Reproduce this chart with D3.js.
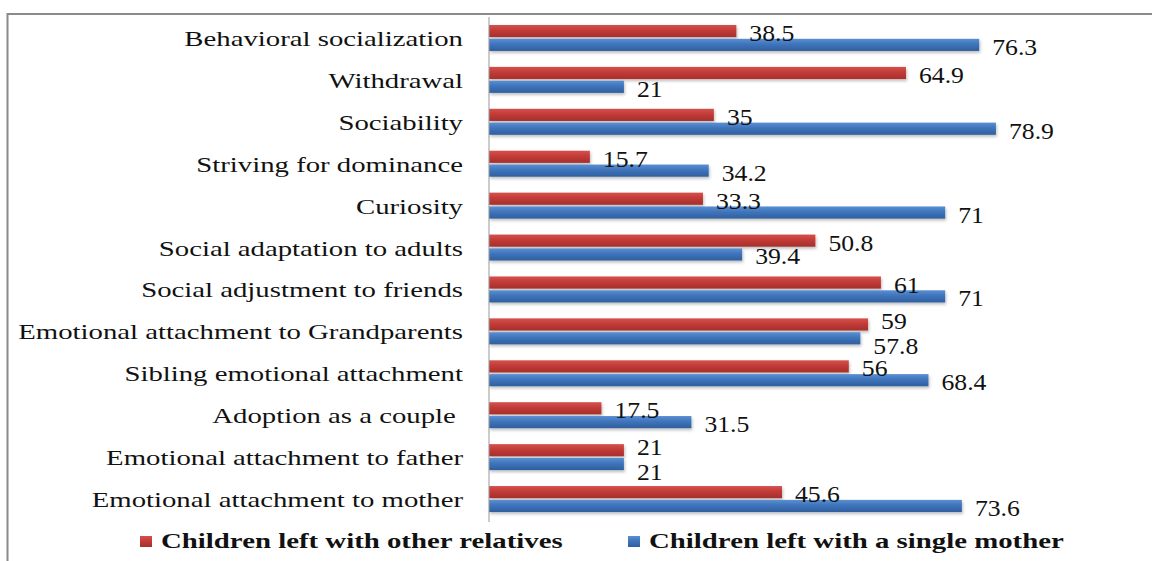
<!DOCTYPE html>
<html>
<head>
<meta charset="utf-8">
<script src="https://cdn.jsdelivr.net/npm/d3@7"></script>
<style>
  body { margin: 0; background: #fff; }
  svg { display: block; }
</style>
</head>
<body>
<svg id="chart" width="1152" height="561"></svg>
<script>
// categories, top to bottom
var categories = [
  "Behavioral socialization",
  "Withdrawal",
  "Sociability",
  "Striving for dominance",
  "Curiosity",
  "Social adaptation to adults",
  "Social adjustment to friends",
  "Emotional attachment to Grandparents",
  "Sibling emotional attachment",
  "Adoption as a couple ",
  "Emotional attachment to father",
  "Emotional attachment to mother"
];
var relatives = [38.5, 64.9, 35, 15.7, 33.3, 50.8, 61, 59, 56, 17.5, 21, 45.6];
var singleMother = [76.3, 21, 78.9, 34.2, 71, 39.4, 71, 57.8, 68.4, 31.5, 21, 73.6];
var seriesNames = ["Children left with other relatives", "Children left with a single mother"];

var FONT = "Liberation Serif";
var svg = d3.select("#chart");
var axisX = 489;

// the original's text is stretched sideways; work out how much from one label
function stretch(str, size, weight, target) {
  var t = svg.append("text").style("font-family", FONT).attr("font-size", size)
    .attr("font-weight", weight).text(str);
  var w = t.node().getComputedTextLength();
  t.remove();
  return target / w;
}
var SX_CAT = stretch("Emotional attachment to Grandparents", 22, "normal", 445);
var SX_VAL = stretch("57.8", 23, "normal", 45);
var SX_LEG = stretch("Children left with other relatives", 22, "bold", 402);

var x = d3.scaleLinear().domain([0, 80]).range([0, 514]);
var y = d3.scaleBand().domain(categories).range([17, 520]);
var inner = d3.scaleBand().domain([0, 1]).range([y.bandwidth() / 2 - 13, y.bandwidth() / 2 + 13]).paddingInner(0.12);

// gradients
var defs = svg.append("defs");
var grads = [["#d5514d", "#c23b37", "#a52f2c"], ["#5a8fd2", "#3f74bb", "#2f5f9e"]];
grads.forEach(function(g, i) {
  var lg = defs.append("linearGradient").attr("id", "g" + i)
    .attr("x1", 0).attr("y1", 0).attr("x2", 0).attr("y2", 1);
  lg.append("stop").attr("offset", "0%").attr("stop-color", g[0]);
  lg.append("stop").attr("offset", "45%").attr("stop-color", g[1]);
  lg.append("stop").attr("offset", "100%").attr("stop-color", g[2]);
});
var f = defs.append("filter").attr("id", "shadow").attr("x", "-5%").attr("y", "-50%").attr("width", "110%").attr("height", "200%");
f.append("feDropShadow").attr("dx", 1).attr("dy", 2).attr("stdDeviation", 1.5).attr("flood-color", "#000").attr("flood-opacity", 0.25);

// frame
svg.append("line").attr("x1", 7).attr("x2", 1152).attr("y1", 14).attr("y2", 14)
  .attr("stroke", "#8a8a8a").attr("stroke-width", 2);
svg.append("line").attr("x1", 7.5).attr("x2", 7.5).attr("y1", 13).attr("y2", 561)
  .attr("stroke", "#8a8a8a").attr("stroke-width", 2);

var rows = categories.map(function(c, i) {
  return { cat: c, vals: [relatives[i], singleMother[i]] };
});

var g = svg.append("g").attr("transform", "translate(" + axisX + ",0)");

var row = g.selectAll("g.row").data(rows).enter().append("g")
  .attr("class", "row")
  .attr("transform", function(d) { return "translate(0," + y(d.cat) + ")"; });

row.selectAll("rect").data(function(d) { return d.vals; }).enter().append("rect")
  .attr("x", 0)
  .attr("y", function(d, i) { return inner(i); })
  .attr("width", function(d) { return x(d); })
  .attr("height", inner.bandwidth())
  .attr("fill", function(d, i) { return "url(#g" + i + ")"; })
  .attr("filter", "url(#shadow)");

// value labels; pushed apart when the two bars of a row end close together
row.each(function(r) {
  var close = Math.abs(x(r.vals[0]) - x(r.vals[1])) < 45;
  d3.select(this).selectAll("text.val").data(r.vals).enter().append("text")
    .attr("class", "val")
    .attr("transform", function(d, i) {
      var nudge = close ? (i == 0 ? -3 : 8) : 2;
      var ty = inner(i) + inner.bandwidth() / 2 + 8 + nudge;
      return "translate(" + (x(d) + 13) + "," + ty + ") scale(" + SX_VAL + ",1)";
    })
    .style("font-family", FONT)
    .attr("font-size", 23)
    .attr("fill", "#111")
    .text(function(d) { return d; });
});

// category labels
svg.selectAll("text.cat").data(categories).enter().append("text")
  .attr("class", "cat")
  .attr("transform", function(d) {
    return "translate(463," + (y(d) + y.bandwidth() / 2 + 8) + ") scale(" + SX_CAT + ",1)";
  })
  .attr("text-anchor", "end")
  .style("font-family", FONT)
  .attr("font-size", 22)
  .attr("fill", "#111")
  .style("white-space", "pre")
  .text(function(d) { return d; });

// axis line
svg.append("line").attr("x1", axisX).attr("x2", axisX).attr("y1", 17).attr("y2", 522)
  .attr("stroke", "#999").attr("stroke-width", 1);

// legend
var legX = [140, 628];
var leg = svg.selectAll("g.leg").data(seriesNames).enter().append("g")
  .attr("class", "leg")
  .attr("transform", function(d, i) { return "translate(" + legX[i] + ",536)"; });
leg.append("rect").attr("width", 12).attr("height", 11)
  .attr("fill", function(d, i) { return "url(#g" + i + ")"; });
leg.append("text")
  .attr("transform", "translate(21,12) scale(" + SX_LEG + ",1)")
  .style("font-family", FONT)
  .attr("font-size", 22).attr("font-weight", "bold").attr("fill", "#111")
  .text(function(d) { return d; });
</script>
</body>
</html>
